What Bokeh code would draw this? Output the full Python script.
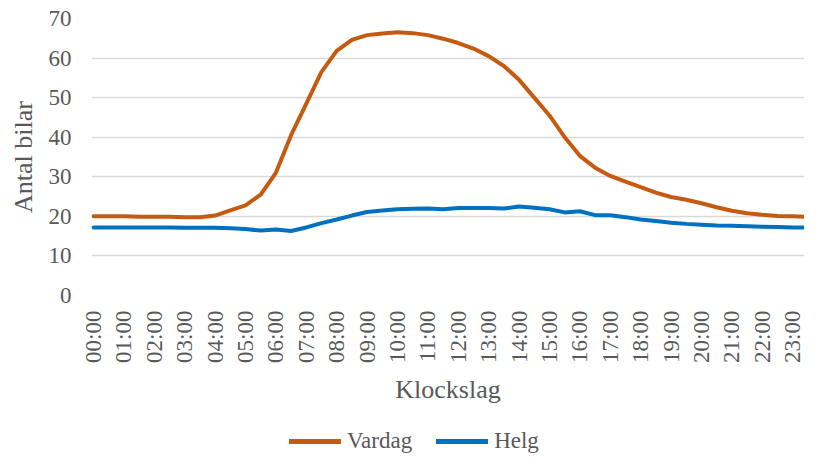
import math
from bokeh.plotting import figure
from bokeh.layouts import column
from bokeh.models import ColumnDataSource, FixedTicker, Legend, LegendItem
from bokeh.embed import file_html
from bokeh.resources import INLINE

# Time of day in hours (half-hour steps)
hours = [i * 0.5 for i in range(49)]

vardag = [20.0, 20.0, 20.0, 19.9, 19.9, 19.9, 19.8, 19.8, 20.2, 21.5,
          22.8, 25.5, 31.0, 40.5, 48.5, 56.5, 61.8, 64.6, 65.8, 66.2,
          66.5, 66.3, 65.8, 64.9, 63.8, 62.4, 60.5, 58.0, 54.5, 50.0,
          45.5, 40.0, 35.3, 32.3, 30.2, 28.8, 27.4, 26.0, 24.9, 24.2,
          23.3, 22.3, 21.4, 20.8, 20.4, 20.1, 20.0, 19.9, 19.8]

helg = [17.2, 17.2, 17.2, 17.2, 17.2, 17.2, 17.1, 17.1, 17.1, 17.0,
        16.8, 16.4, 16.7, 16.3, 17.2, 18.3, 19.2, 20.2, 21.1, 21.5,
        21.8, 21.9, 22.0, 21.8, 22.1, 22.1, 22.1, 22.0, 22.5, 22.2,
        21.8, 21.0, 21.3, 20.3, 20.3, 19.8, 19.2, 18.8, 18.4, 18.1,
        17.9, 17.7, 17.6, 17.5, 17.4, 17.3, 17.2, 17.2, 17.2]

tick_hours = list(range(24))
tick_labels = ["%02d:00" % h for h in tick_hours]
y_ticks = [0, 10, 20, 30, 40, 50, 60, 70]

series_names = ["Vardag", "Helg"]
colors = ["#C55A11", "#0070C0"]

FONT = "Liberation Serif"
TEXT = "#595959"

src = ColumnDataSource(dict(x=hours, vardag=vardag, helg=helg))

# ---------------- main chart ----------------
p = figure(width=804, height=406, output_backend="svg", toolbar_location=None,
           x_range=(-0.066, 23.39), y_range=(0, 70),
           min_border_left=91, min_border_right=0, min_border_top=18,
           min_border_bottom=110)
p.outline_line_color = None
p.background_fill_color = "white"
p.border_fill_color = "white"

r1 = p.line("x", "vardag", source=src, line_color=colors[0], line_width=4,
            line_join="round", line_cap="round")
r2 = p.line("x", "helg", source=src, line_color=colors[1], line_width=4,
            line_join="round", line_cap="round")

xa = p.xaxis[0]
xa.ticker = FixedTicker(ticks=tick_hours)
xa.major_label_overrides = {h: lab for h, lab in zip(tick_hours, tick_labels)}
xa.major_label_orientation = math.pi / 2
xa.axis_label = "Klockslag"
xa.axis_line_color = None
xa.major_tick_line_color = None
xa.minor_tick_line_color = None
xa.major_tick_out = 0
xa.major_tick_in = 0
xa.major_label_standoff = 15
xa.axis_label_standoff = 9
xa.major_label_text_font = FONT
xa.major_label_text_font_size = "23px"
xa.major_label_text_color = TEXT
xa.axis_label_text_font = FONT
xa.axis_label_text_font_size = "26px"
xa.axis_label_text_font_style = "normal"
xa.axis_label_text_color = TEXT

ya = p.yaxis[0]
ya.ticker = FixedTicker(ticks=y_ticks)
ya.axis_label = "Antal bilar"
ya.axis_line_color = None
ya.major_tick_line_color = None
ya.minor_tick_line_color = None
ya.major_tick_out = 0
ya.major_tick_in = 0
ya.major_label_standoff = 20
ya.axis_label_standoff = 8
ya.major_label_text_font = FONT
ya.major_label_text_font_size = "23px"
ya.major_label_text_color = TEXT
ya.axis_label_text_font = FONT
ya.axis_label_text_font_size = "26px"
ya.axis_label_text_font_style = "normal"
ya.axis_label_text_color = TEXT

p.xgrid.grid_line_color = None
p.ygrid.grid_line_color = "#D9D9D9"
p.ygrid.grid_line_width = 1.5

# ---------------- legend strip ----------------
lg = figure(width=804, height=48, output_backend="svg", toolbar_location=None,
            x_axis_type=None, y_axis_type=None,
            min_border_left=0, min_border_right=0, min_border_top=0,
            min_border_bottom=0)
lg.outline_line_color = None
lg.background_fill_color = "white"
lg.border_fill_color = "white"
l1 = lg.line("x", "vardag", source=src, line_color=colors[0], line_width=5,
             line_cap="round", visible=False)
l2 = lg.line("x", "helg", source=src, line_color=colors[1], line_width=5,
             line_cap="round", visible=False)

legend = Legend(items=[LegendItem(label=series_names[0], renderers=[l1]),
                       LegendItem(label=series_names[1], renderers=[l2])],
                orientation="horizontal", location=(198, 0))
legend.label_text_font = FONT
legend.label_text_font_size = "23px"
legend.label_text_color = TEXT
legend.glyph_width = 52
legend.glyph_height = 24
legend.label_standoff = 6
legend.spacing = 24
legend.padding = 0
legend.margin = 0
legend.border_line_color = None
legend.background_fill_alpha = 0
legend.inactive_fill_alpha = 0
lg.add_layout(legend, "center")

layout = column(p, lg, spacing=0)

open("out.html", "w").write(file_html(layout, INLINE))
